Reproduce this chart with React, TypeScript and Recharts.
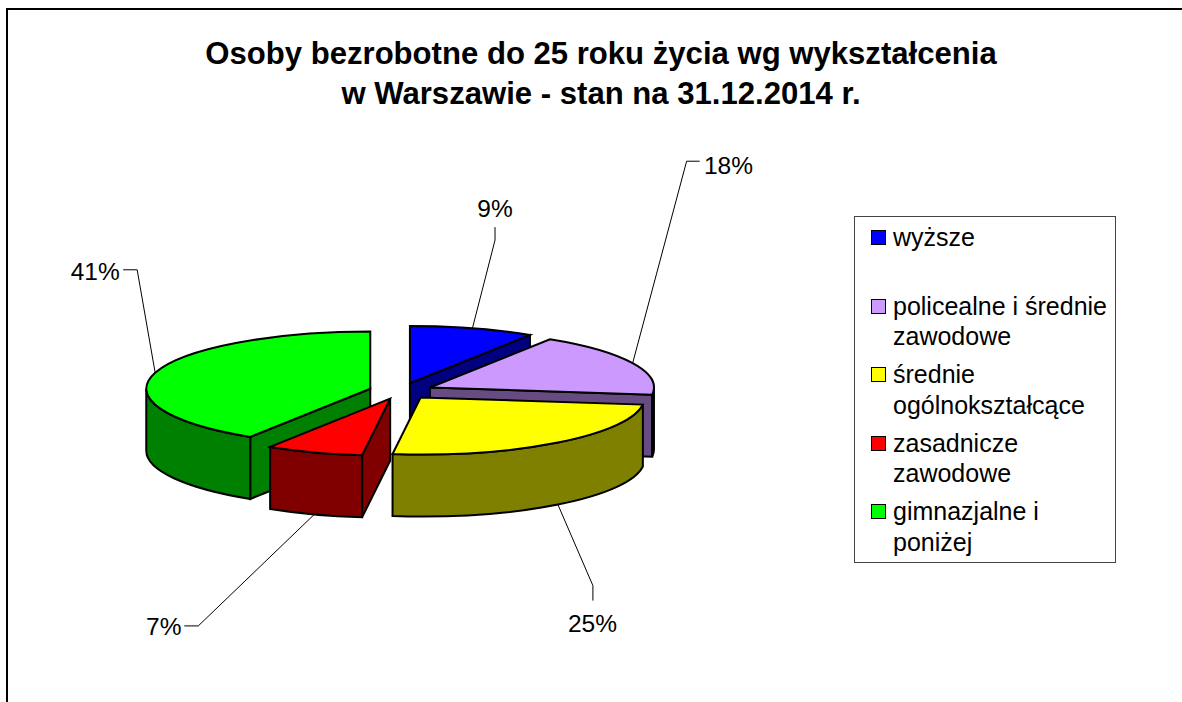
import React from "react";
import { PieChart, Pie, Legend } from "recharts";

const categories = ["wyższe", "policealne i średnie zawodowe", "średnie ogólnokształcące", "zasadnicze zawodowe", "gimnazjalne i poniżej"];
const shares = [9, 18, 25, 7, 41];
const colors = ["#0000FF", "#CC99FF", "#FFFF00", "#FF0000", "#00FF00"];
const sideColors = ["#000080", "#664C80", "#808000", "#800000", "#008000"];
const legendLines = [["wyższe"], ["policealne i średnie", "zawodowe"], ["średnie", "ogólnokształcące"], ["zasadnicze", "zawodowe"], ["gimnazjalne i", "poniżej"]];

// leader-line bends and text centre, relative to where the line leaves the slice
const leaderBends = [
  [[22.6, -88.2], [22.6, -101.2]],
  [[54, -202], [67, -202]],
  [[35, 81], [35, 96]],
  [[-116, 111.5], [-130, 111.5]],
  [[-18, -103], [-32, -103]],
];
const labelOffsets = [[22.6, -120], [95.8, -198], [34.5, 118.5], [-150.5, 112.5], [-60, -100.8]];

const FONT = '"Liberation Sans", Arial, sans-serif';
const W = 1176, H = 692;
const CX = 393, CY = 381, R = 224, TILT = 0.255, DEPTH = 62, EXPLODE = 32;
const rad = (d: number) => (d * Math.PI) / 180;

// The last slice is painted first, as it lies behind the others; the pie starts at its leading edge.
const paintOrder = [4, 0, 1, 2, 3];
const tableRows = paintOrder.map((i) => ({ name: categories[i], value: shares[i], fill: colors[i] }));
const total = shares.reduce((a, b) => a + b, 0);
const firstSweep = (shares[paintOrder[0]] / total) * 360;

const norm = (t: number) => ((t % 360) + 360) % 360;

function apexOf(mid: number, cx: number, cy: number) {
  return { x: cx + EXPLODE * Math.sin(rad(mid)), y: cy - EXPLODE * TILT * Math.cos(rad(mid)) };
}

function Slice(props: any) {
  const { cx, cy, outerRadius: r, startAngle, endAngle, fill } = props;
  const t0 = norm(90 - startAngle);
  const t1 = t0 + Math.abs(startAngle - endAngle);
  const mid = (t0 + t1) / 2;
  const a = apexOf(mid, cx, cy);
  const ry = r * TILT;
  const pt = (t: number, dy = 0) => ({ x: a.x + r * Math.sin(rad(t)), y: a.y - ry * Math.cos(rad(t)) + dy });
  const side = sideColors[colors.indexOf(fill)] ?? "#000";
  const p0 = pt(t0), p1 = pt(t1);
  const face = (p: { x: number; y: number }) =>
    `M${a.x},${a.y} L${p.x},${p.y} L${p.x},${p.y + DEPTH} L${a.x},${a.y + DEPTH} Z`;
  const showEnd = Math.sin(rad(t1)) > 1e-6;
  const showStart = Math.sin(rad(t0)) < -1e-6;
  const rimFrom = Math.max(t0, 90), rimTo = Math.min(t1, 270);
  let rim = "";
  if (rimTo > rimFrom) {
    const u = pt(rimFrom), v = pt(rimTo), ub = pt(rimFrom, DEPTH), vb = pt(rimTo, DEPTH);
    rim = `M${u.x},${u.y} A${r},${ry} 0 0 1 ${v.x},${v.y} L${vb.x},${vb.y} A${r},${ry} 0 0 0 ${ub.x},${ub.y} Z`;
  }
  const top = `M${a.x},${a.y} L${p0.x},${p0.y} A${r},${ry} 0 ${t1 - t0 > 180 ? 1 : 0} 1 ${p1.x},${p1.y} Z`;
  return (
    <g stroke="#000" strokeWidth={2} strokeLinejoin="miter">
      {showEnd && <path d={face(p1)} fill={side} />}
      {showStart && <path d={face(p0)} fill={side} />}
      {rim && <path d={rim} fill={side} />}
      <path d={top} fill={fill} />
    </g>
  );
}

function LeaderLabel(props: any) {
  const { cx, cy, outerRadius: r, midAngle, index, percent } = props;
  const idx = paintOrder[index];
  const mid = norm(90 - midAngle);
  const a = apexOf(mid, cx, cy);
  const sx = a.x + r * Math.sin(rad(mid));
  const front = mid > 90 && mid < 270;
  const sy = a.y - r * TILT * Math.cos(rad(mid)) + (front ? DEPTH : 0);
  const pts = [[sx, sy], ...leaderBends[idx].map(([dx, dy]) => [sx + dx, sy + dy])];
  const [ox, oy] = labelOffsets[idx];
  return (
    <g>
      <polyline points={pts.map((p) => p.join(",")).join(" ")} fill="none" stroke="#000" strokeWidth={1} />
      <text x={sx + ox} y={sy + oy} textAnchor="middle" dominantBaseline="central" fontFamily={FONT} fontSize={24.5} fill="#000">
        {`${Math.round(percent * 100)}%`}
      </text>
    </g>
  );
}

function LegendBox({ payload }: any) {
  return (
    <div style={{ position: "relative", width: 262, height: 347, border: "1px solid #444", boxSizing: "border-box", background: "#fff", fontFamily: FONT, fontSize: 25, color: "#000" }}>
      {(payload ?? []).map((e: any, i: number) => (
        <div key={i} style={{ position: "absolute", left: 16, top: 5 + i * 68.5, height: 62 }}>
          <span style={{ position: "absolute", left: 0, top: 8, width: 13, height: 13, border: "1.5px solid #000", background: e.color, boxSizing: "content-box" }} />
          {legendLines[i].map((l, j) => (
            <div key={j} style={{ position: "absolute", left: 22, top: j * 30.6, whiteSpace: "nowrap", lineHeight: "30px" }}>{l}</div>
          ))}
        </div>
      ))}
    </div>
  );
}

export default function App() {
  return (
    <div style={{ position: "absolute", left: 6, top: 8, width: W, height: 694, borderTop: "2px solid #000", borderLeft: "2px solid #000", boxSizing: "border-box", overflow: "hidden", background: "#fff" }}>
      <div style={{ position: "absolute", left: 0, top: 24, width: 1186, textAlign: "center", fontFamily: FONT, fontWeight: 700, fontSize: 31.1, lineHeight: "40px", color: "#000" }}>
        Osoby bezrobotne do 25 roku życia wg wykształcenia
        <br />w Warszawie - stan na 31.12.2014 r.
      </div>
      <PieChart width={W} height={H} margin={{ top: 0, right: 0, bottom: 0, left: 0 }}>
        <Pie
          data={tableRows}
          dataKey="value"
          nameKey="name"
          cx={CX}
          cy={CY}
          outerRadius={R}
          startAngle={90 + firstSweep}
          endAngle={90 + firstSweep - 360}
          isAnimationActive={false}
          shape={Slice}
          label={LeaderLabel}
          labelLine={false}
        />
        <Legend
          content={<LegendBox />}
          itemSorter={(item: any) => categories.indexOf(item.value)}
          wrapperStyle={{ left: 846, top: 206, width: 262, bottom: "auto", right: "auto" }}
        />
      </PieChart>
    </div>
  );
}
